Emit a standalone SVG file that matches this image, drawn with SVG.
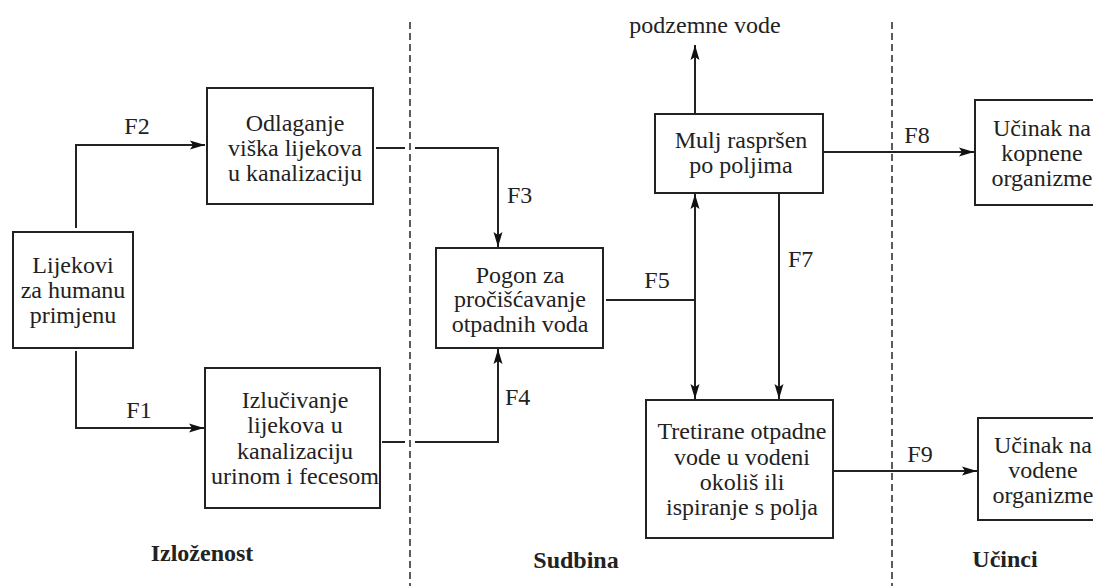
<svg xmlns="http://www.w3.org/2000/svg" width="1093" height="586" viewBox="0 0 1093 586" font-family="'Liberation Serif', 'DejaVu Serif', serif">
<style>
.box{fill:#fff;stroke:#222;stroke-width:2}
.ln{fill:none;stroke:#222;stroke-width:2}
.arr{marker-end:url(#ah)}
.dash{fill:none;stroke:#333;stroke-width:1.6;stroke-dasharray:7 4}
text{font-family:'Liberation Serif','DejaVu Serif',serif;font-size:24px;fill:#222}
.c{text-anchor:middle}
.b{font-weight:bold}
</style>
<defs>
<marker id="ah" markerWidth="16" markerHeight="10" refX="15" refY="5" orient="auto" markerUnits="userSpaceOnUse">
<path d="M0,0.5 L15,5 L0,9.5 L3,5 Z" fill="#111"/>
</marker>
</defs>
<rect width="1093" height="586" fill="#fff"/>
<g id="dividers">
<line class="dash" x1="410" y1="22" x2="410" y2="586"/>
<line class="dash" x1="892" y1="22" x2="892" y2="586"/>
</g>
<g id="connectors">
<polyline class="ln arr" points="76,228 76,145 205,145"/>
<text x="137" y="134" class="c">F2</text>
<polyline class="ln arr" points="76,351 76,428 204,428"/>
<text x="139" y="418" class="c">F1</text>
<line class="ln" x1="376" y1="148" x2="405" y2="148"/>
<polyline class="ln arr" points="415,148 498,148 498,247"/>
<text x="507" y="203">F3</text>
<line class="ln" x1="382" y1="442" x2="405" y2="442"/>
<polyline class="ln arr" points="415,442 498,442 498,349"/>
<text x="505" y="405">F4</text>
<line class="ln" x1="606" y1="300" x2="695" y2="300"/>
<text x="657" y="288" class="c">F5</text>
<line class="ln arr" x1="695" y1="300" x2="695" y2="194"/>
<line class="ln arr" x1="695" y1="300" x2="695" y2="399"/>
<line class="ln arr" x1="695" y1="114" x2="695" y2="45"/>
<text x="705" y="33" class="c">podzemne vode</text>
<line class="ln arr" x1="779" y1="193" x2="779" y2="399"/>
<text x="788" y="267">F7</text>
<line class="ln arr" x1="823" y1="152" x2="974" y2="152"/>
<text x="917" y="143" class="c">F8</text>
<line class="ln arr" x1="833" y1="471" x2="977" y2="471"/>
<text x="920" y="462" class="c">F9</text>
</g>
<g id="lijekovi">
<rect class="box" x="13" y="232" width="120" height="116"/>
<text class="c" x="73" y="273">Lijekovi</text>
<text class="c" x="73" y="298">za humanu</text>
<text class="c" x="73" y="323">primjenu</text>
</g>
<g id="odlaganje">
<rect class="box" x="207" y="88" width="166" height="116"/>
<text class="c" x="295" y="131">Odlaganje</text>
<text class="c" x="295" y="156">viška lijekova</text>
<text class="c" x="295" y="181">u kanalizaciju</text>
</g>
<g id="izlucivanje">
<rect class="box" x="205" y="368" width="175" height="140"/>
<text class="c" x="295" y="408">Izlučivanje</text>
<text class="c" x="295" y="433">lijekova u</text>
<text class="c" x="295" y="459">kanalizaciju</text>
<text class="c" x="295" y="484">urinom i fecesom</text>
</g>
<g id="pogon">
<rect class="box" x="436" y="248" width="167" height="100"/>
<text class="c" x="520" y="283">Pogon za</text>
<text class="c" x="520" y="307">pročišćavanje</text>
<text class="c" x="520" y="332">otpadnih voda</text>
</g>
<g id="mulj">
<rect class="box" x="655" y="114" width="168" height="79"/>
<text class="c" x="741" y="148">Mulj raspršen</text>
<text class="c" x="741" y="173">po poljima</text>
</g>
<g id="tretirane">
<rect class="box" x="646" y="400" width="187" height="138"/>
<text class="c" x="742" y="439">Tretirane otpadne</text>
<text class="c" x="742" y="465">vode u vodeni</text>
<text class="c" x="742" y="490">okoliš ili</text>
<text class="c" x="742" y="515">ispiranje s polja</text>
</g>
<g id="ucinak-kopnene">
<rect class="box" x="975" y="100" width="130" height="105"/>
<text class="c" x="1042" y="136">Učinak na</text>
<text class="c" x="1042" y="161">kopnene</text>
<text class="c" x="1042" y="186">organizme</text>
</g>
<g id="ucinak-vodene">
<rect class="box" x="978" y="418" width="130" height="102"/>
<text class="c" x="1043" y="453">Učinak na</text>
<text class="c" x="1043" y="478">vodene</text>
<text class="c" x="1043" y="503">organizme</text>
</g>
<g id="section-labels">
<text class="c b" x="202" y="561">Izloženost</text>
<text class="c b" x="576" y="568">Sudbina</text>
<text class="c b" x="1005" y="567">Učinci</text>
</g>
</svg>
